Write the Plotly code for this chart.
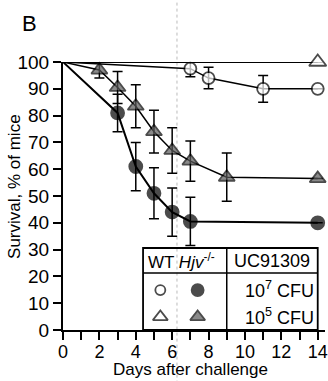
import plotly.graph_objects as go

# ---- data ----
wt7_days = [0, 7, 8, 11, 14]
wt7_surv = [100, 97.5, 94, 90, 90]
wt7_err = [0, 3, 4, 5, 0]

wt5_days = [0, 14]
wt5_surv = [100, 100]
wt5_err = [0, 0]

hjv7_days = [0, 3, 4, 5, 6, 7, 14]
hjv7_surv = [100, 81, 61, 51, 44, 40.5, 40]
hjv7_err = [0, 7, 9, 9.5, 9, 9, 0]

hjv5_days = [0, 2, 3, 4, 5, 6, 7, 9, 14]
hjv5_surv = [100, 97, 90.5, 83.5, 74, 67, 63, 57, 56.5]
hjv5_err = [0, 3, 6, 8, 8, 8.5, 7.5, 9, 0]

x_ticks = list(range(0, 15, 2))
x_minor_ticks = list(range(1, 15, 2))
y_ticks = list(range(0, 101, 10))

FONT = "Liberation Sans, Arial, sans-serif"

fig = go.Figure()

def series(x, y, err, symbol, color, lw, size):
    sizes = [0 if d == 0 else size for d in x]  # no marker at day 0
    fig.add_trace(go.Scatter(
        x=x, y=y, mode="lines+markers",
        line=dict(color="black", width=lw),
        marker=dict(symbol=symbol, size=sizes, color=color,
                    line=dict(color="black", width=1.8)),
        error_y=dict(type="data", array=err, visible=True,
                     color="black", thickness=1.5, width=5),
        cliponaxis=False, showlegend=False, hoverinfo="skip"))

series(wt5_days, wt5_surv, wt5_err, "triangle-up", "white", 1.8, 15)
series(wt7_days, wt7_surv, wt7_err, "circle", "white", 1.5, 12)
series(hjv5_days, hjv5_surv, hjv5_err, "triangle-up", "#5a5a5a", 1.5, 14)
series(hjv7_days, hjv7_surv, hjv7_err, "circle", "black", 2, 13)

# ---- legend table (layout) ----
box_x0, box_x1, box_div = 4.4, 14.0, 9.0
box_y0, box_y1, head_y = 0, 30.6, 21.3
shapes = [
    # faint scan fold
    dict(type="line", xref="paper", yref="paper", x0=0.435, x1=0.435, y0=-0.2, y1=1.24,
         line=dict(color="#bbbbbb", width=1, dash="dot"), layer="below"),
    dict(type="rect", xref="x", yref="y", x0=box_x0, x1=box_x1, y0=box_y0, y1=box_y1,
         line=dict(color="black", width=1.8), fillcolor="rgba(0,0,0,0)", layer="above"),
    dict(type="line", xref="x", yref="y", x0=box_x0, x1=box_x1, y0=head_y, y1=head_y,
         line=dict(color="black", width=1.5), layer="above"),
    dict(type="line", xref="x", yref="y", x0=box_div, x1=box_div, y0=box_y0, y1=box_y1,
         line=dict(color="black", width=1.5), layer="above"),
]

leg_x = [5.35, 7.4, 5.35, 7.4]
leg_y = [14.9, 14.9, 4.9, 4.9]
leg_sym = ["circle", "circle", "triangle-up", "triangle-up"]
leg_col = ["white", "black", "white", "#5a5a5a"]
leg_size = [10, 12, 13, 13]
fig.add_trace(go.Scatter(x=leg_x, y=leg_y, mode="markers",
                         marker=dict(symbol=leg_sym, color=leg_col, size=leg_size,
                                     line=dict(color="black", width=1.8)),
                         cliponaxis=False, showlegend=False, hoverinfo="skip"))

annotations = [
    dict(text="B", xref="paper", yref="paper", x=-0.164, y=1.198, xanchor="left",
         yanchor="top", showarrow=False, font=dict(family=FONT, size=22, color="black")),
    dict(text="Days after challenge", xref="paper", yref="paper", x=0.485, y=-0.147,
         xanchor="center", yanchor="middle", showarrow=False,
         font=dict(family=FONT, size=17, color="black")),
    dict(text="Survival, % of mice", xref="paper", yref="paper", x=-0.183, y=0.534,
         xanchor="center", yanchor="middle", textangle=-90, showarrow=False,
         font=dict(family=FONT, size=17, color="black")),
    dict(text="WT <i>Hjv</i><sup>-/-</sup>", xref="x", yref="y", x=4.55, y=25.9,
         xanchor="left", yanchor="middle", showarrow=False,
         font=dict(family=FONT, size=17, color="black")),
    dict(text="UC91309", xref="x", yref="y", x=11.5, y=25.9, xanchor="center",
         yanchor="middle", showarrow=False, font=dict(family=FONT, size=18, color="black")),
    dict(text="10<sup>7</sup> CFU", xref="x", yref="y", x=13.9, y=15.2, xanchor="right",
         yanchor="middle", showarrow=False, font=dict(family=FONT, size=18, color="black")),
    dict(text="10<sup>5</sup> CFU", xref="x", yref="y", x=13.9, y=5.2, xanchor="right",
         yanchor="middle", showarrow=False, font=dict(family=FONT, size=18, color="black")),
]

fig.update_layout(
    width=328, height=381,
    margin=dict(l=63, r=3, t=62, b=51),
    plot_bgcolor="white", paper_bgcolor="white",
    shapes=shapes, annotations=annotations,
    font=dict(family=FONT, color="black"),
    hovermode=False,
    xaxis=dict(range=[0, 14.4], tickvals=x_ticks, automargin=False,
               showline=True, linecolor="black", linewidth=2,
               ticks="outside", ticklen=8, tickwidth=2, tickcolor="black",
               ticklabelstandoff=-4,
               minor=dict(tickvals=x_minor_ticks, ticks="outside", ticklen=8,
                          tickwidth=2, tickcolor="black", showgrid=False),
               showgrid=False, zeroline=False,
               tickfont=dict(family=FONT, size=18)),
    yaxis=dict(range=[0, 100], tickvals=y_ticks, automargin=False,
               showline=True, linecolor="black", linewidth=2,
               ticks="outside", ticklen=8, tickwidth=2, tickcolor="black",
               showgrid=False, zeroline=False,
               tickfont=dict(family=FONT, size=19)),
)

# remove the default page margin so the 328x381 figure fills the window exactly
fig.write_html("out.html",
               config={"displayModeBar": False, "staticPlot": True},
               post_script="document.body.style.margin='0';document.body.style.overflow='hidden';")
